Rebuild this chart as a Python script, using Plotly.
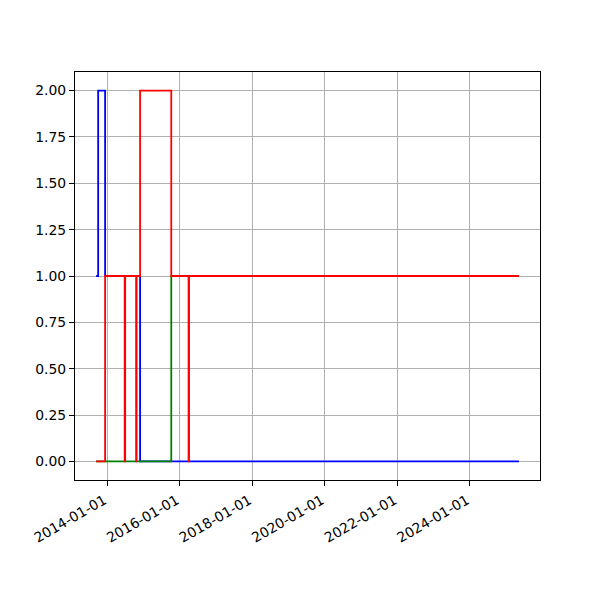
import plotly.graph_objects as go

# Data (step series; value holds until next date)
blue_dates = ["2013-09-13", "2013-10-03", "2013-12-12", "2014-11-29", "2025-05-08"]
blue_values = [1, 2, 1, 0, 0]

green_dates = ["2013-09-13", "2015-10-09", "2025-05-08"]
green_values = [0, 1, 1]

red_dates = ["2013-09-13", "2013-12-12", "2014-06-27", "2014-07-02", "2014-10-20",
             "2014-10-25", "2014-11-29", "2015-10-09", "2016-03-31", "2016-04-05",
             "2025-05-08"]
red_values = [0, 1, 0, 1, 0, 1, 2, 1, 0, 1, 1]

x_tick_labels = ["2014-01-01", "2016-01-01", "2018-01-01", "2020-01-01",
                 "2022-01-01", "2024-01-01"]
y_ticks = [0.0, 0.25, 0.5, 0.75, 1.0, 1.25, 1.5, 1.75, 2.0]

fig = go.Figure()
for d, v, c in [(blue_dates, blue_values, "#0000ff"),
                (green_dates, green_values, "#008000"),
                (red_dates, red_values, "#ff0000")]:
    fig.add_trace(go.Scatter(x=d, y=v, mode="lines", line_shape="hv",
                             line=dict(color=c, width=1.8), showlegend=False))

font = dict(family="DejaVu Sans", size=13.9, color="black")
fig.update_layout(
    width=600, height=600,
    margin=dict(l=67, r=68, t=64, b=128),
    paper_bgcolor="white", plot_bgcolor="white",
    font=font,
)
fig.update_xaxes(
    type="date",
    range=["2013-02-12", "2025-12-06"],
    tickvals=x_tick_labels, ticktext=x_tick_labels,
    tickangle=-30, automargin=False,
    ticklabelshift=-3, ticklabelstandoff=1,
    showgrid=True, gridcolor="#b0b0b0", gridwidth=1,
    showline=True, linecolor="black", linewidth=1, mirror=True,
    ticks="outside", ticklen=5, tickcolor="black", tickwidth=1,
    zeroline=False,
)
fig.update_yaxes(
    range=[-0.1, 2.1], automargin=False,
    tickvals=y_ticks, tickformat=".2f",
    showgrid=True, gridcolor="#b0b0b0", gridwidth=1,
    showline=True, linecolor="black", linewidth=1, mirror=True,
    ticks="outside", ticklen=5, tickcolor="black", tickwidth=1,
    zeroline=False,
)
fig.write_html("out.html")
